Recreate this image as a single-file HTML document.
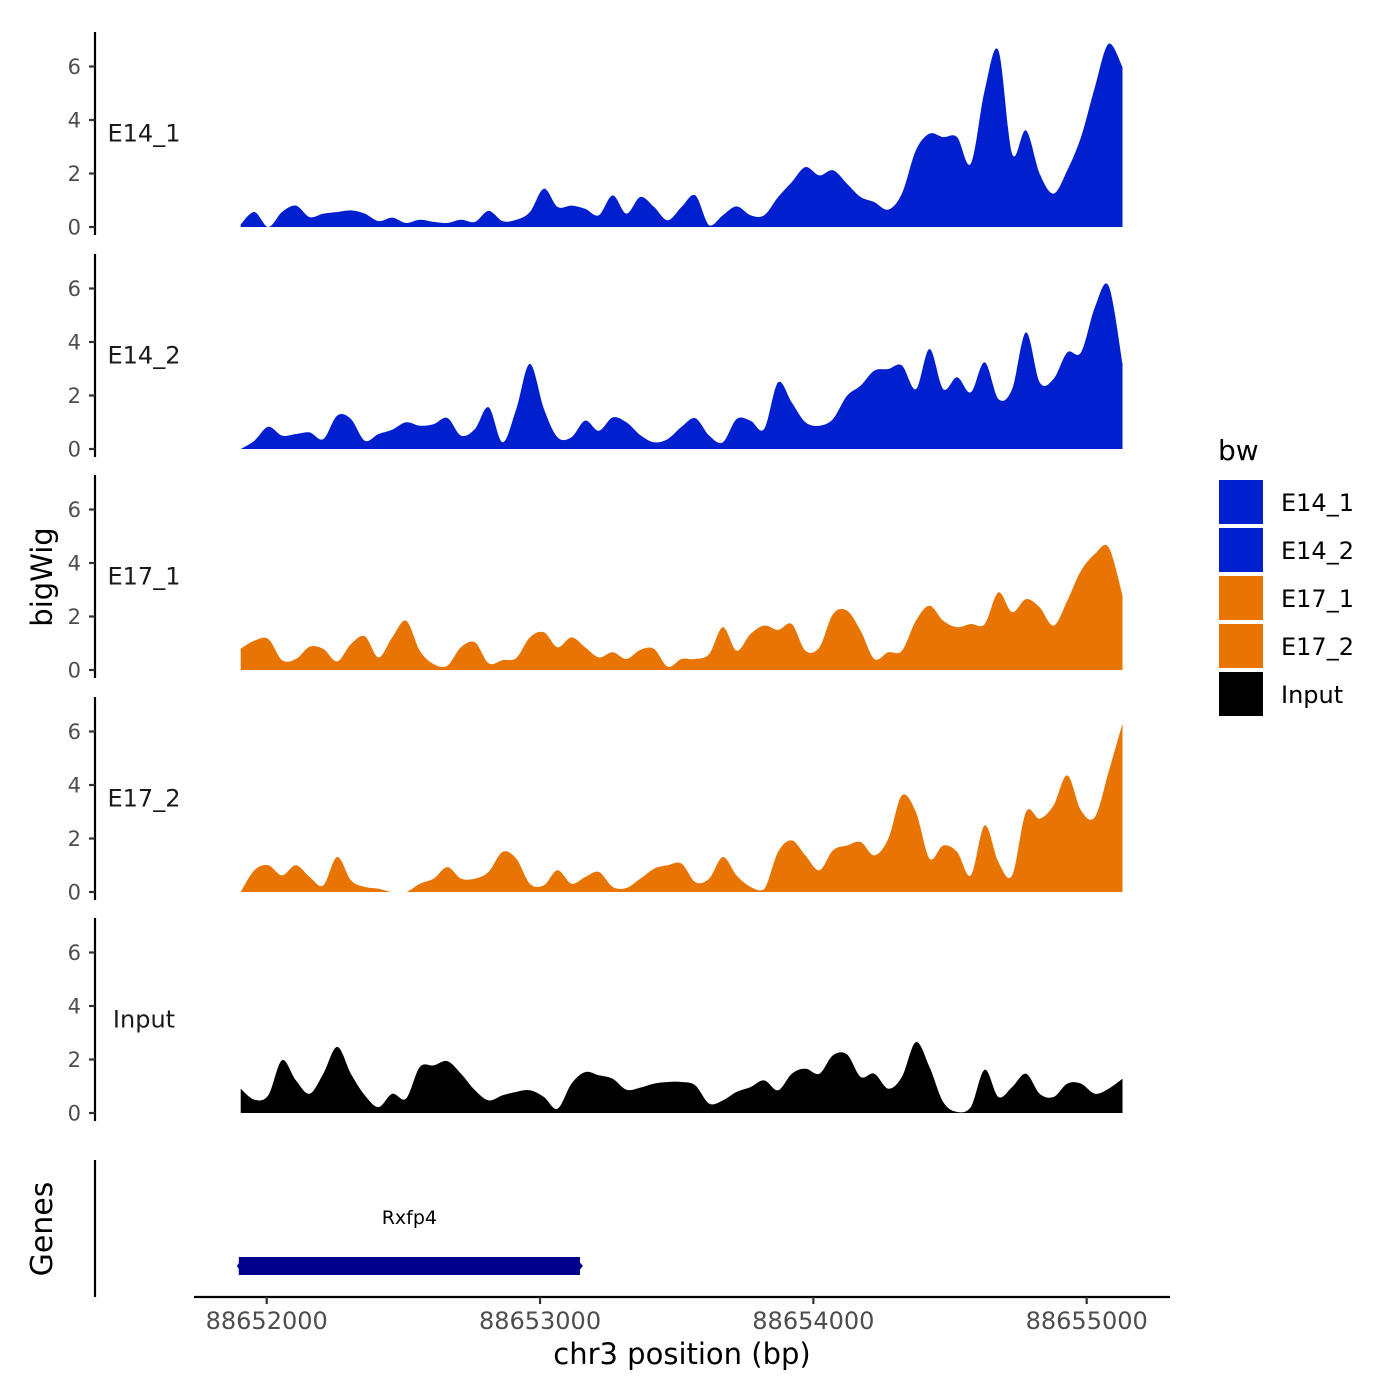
<!DOCTYPE html>
<html><head><meta charset="utf-8">
<style>
html,body{margin:0;padding:0;background:#fff;}
svg{display:block;font-family:"DejaVu Sans","Liberation Sans",sans-serif;}
</style></head>
<body>
<svg id="chart" width="1400" height="1400" viewBox="0 0 1400 1400" xmlns="http://www.w3.org/2000/svg">
<rect width="1400" height="1400" fill="#fff"/>
<g id="panels"></g>
<g id="genes">
  <line x1="95" y1="1160" x2="95" y2="1297" stroke="#000" stroke-width="2.2"/>
  <text x="52" y="1229" font-size="30" text-anchor="middle" transform="rotate(-90 52 1229)">Genes</text>
</g>
<g id="xaxis">
  <line x1="194" y1="1297" x2="1170" y2="1297" stroke="#000" stroke-width="2.2"/>
</g>
<text x="682" y="1364" font-size="29" text-anchor="middle">chr3 position (bp)</text>
<text x="52" y="577" font-size="29" text-anchor="middle" transform="rotate(-90 52 577)">bigWig</text>
<g id="legend">
  <text x="1218" y="460" font-size="28">bw</text>
</g>
</svg>
<script>
const positions = [88651905,88651955,88652006,88652056,88652107,88652157,88652207,88652258,88652308,88652359,88652409,88652459,88652510,88652560,88652611,88652661,88652711,88652762,88652812,88652863,88652913,88652963,88653014,88653064,88653115,88653165,88653215,88653266,88653316,88653367,88653417,88653467,88653518,88653568,88653619,88653669,88653719,88653770,88653820,88653871,88653921,88653971,88654022,88654072,88654123,88654173,88654223,88654274,88654324,88654375,88654425,88654475,88654526,88654576,88654627,88654677,88654727,88654778,88654828,88654879,88654929,88654979,88655030,88655080,88655131];
const trackNames = ["E14_1","E14_2","E17_1","E17_2","Input"];
const trackColors = ["#0020d0","#0020d0","#e87502","#e87502","#000000"];
const e14_1 = [0.1,0.56,0,0.56,0.8,0.37,0.5,0.56,0.62,0.5,0.22,0.35,0.15,0.27,0.19,0.15,0.27,0.19,0.6,0.22,0.27,0.56,1.43,0.75,0.8,0.68,0.44,1.18,0.5,1.12,0.75,0.25,0.75,1.18,0.06,0.44,0.77,0.44,0.44,1.12,1.68,2.24,1.93,2.12,1.62,1.12,0.93,0.65,1.25,2.87,3.49,3.36,3.36,2.37,5.11,6.6,2.74,3.61,1.99,1.25,2.12,3.36,5.23,6.85,5.98];
const e14_2 = [0,0.31,0.83,0.5,0.56,0.62,0.37,1.25,1.12,0.31,0.56,0.72,1.0,0.87,0.93,1.16,0.5,0.75,1.56,0.25,1.5,3.18,1.5,0.44,0.44,1.06,0.68,1.18,1.0,0.52,0.25,0.37,0.83,1.15,0.5,0.25,1.12,1.06,0.75,2.49,1.74,1.0,0.87,1.12,1.99,2.37,2.93,2.99,3.12,2.24,3.74,2.24,2.68,2.12,3.24,1.87,2.24,4.36,2.49,2.62,3.61,3.61,5.3,6.1,3.2];
const e17_1 = [0.8,1.1,1.16,0.37,0.41,0.87,0.79,0.32,0.97,1.26,0.47,1.22,1.84,0.72,0.22,0.16,0.85,1.03,0.25,0.37,0.45,1.22,1.41,0.85,1.22,0.85,0.47,0.66,0.41,0.75,0.79,0.12,0.41,0.41,0.6,1.6,0.72,1.35,1.66,1.5,1.72,0.72,0.85,2.09,2.22,1.47,0.41,0.66,0.72,1.84,2.4,1.84,1.6,1.72,1.72,2.9,2.16,2.65,2.34,1.66,2.59,3.71,4.34,4.59,2.8];
const e17_2 = [0,0.81,1.0,0.62,1.0,0.56,0.25,1.31,0.44,0.19,0.12,0,0,0.31,0.5,0.93,0.5,0.5,0.75,1.5,1.25,0.31,0.25,0.81,0.31,0.56,0.75,0.19,0.15,0.5,0.87,1.0,1.06,0.37,0.5,1.31,0.62,0.19,0.1,1.5,1.93,1.37,0.81,1.56,1.74,1.87,1.37,1.99,3.61,2.99,1.25,1.74,1.5,0.62,2.49,1.12,0.62,2.99,2.74,3.24,4.36,3.05,2.8,4.49,6.3];
const inputTrack = [0.91,0.5,0.66,1.97,1.22,0.72,1.47,2.47,1.47,0.66,0.22,0.72,0.54,1.72,1.78,1.94,1.47,0.85,0.47,0.66,0.79,0.85,0.6,0.16,1.1,1.53,1.41,1.28,0.87,0.95,1.1,1.16,1.16,1.03,0.35,0.47,0.79,0.97,1.22,0.85,1.47,1.66,1.47,2.16,2.19,1.35,1.47,0.91,1.35,2.65,1.72,0.41,0.04,0.22,1.62,0.6,0.97,1.47,0.72,0.6,1.1,1.1,0.72,0.91,1.28];
const yTicks = [0,2,4,6];
const xTicks = [88652000,88653000,88654000,88655000];
const geneName = "Rxfp4";
const geneStart = 88651898;
const geneEnd = 88653146;

const NS = "http://www.w3.org/2000/svg";
const seriesList = [e14_1,e14_2,e17_1,e17_2,inputTrack];
function xScale(bp){ return 266.7 + (bp - 88652000) * 0.27333; }
const panelBase = [227, 449, 670, 892, 1113];
const unit = 26.75;
function yScale(p, v){ return panelBase[p] - v * unit; }
function mk(tag, attrs, parent){
  const el = document.createElementNS(NS, tag);
  for (const k in attrs) el.setAttribute(k, attrs[k]);
  parent.appendChild(el); return el;
}
const panelsG = document.getElementById("panels");
seriesList.forEach((vals, p) => {
  const g = mk("g", {}, panelsG);
  
  
  const top = panelBase[p] - 195, bot = panelBase[p] + 8;
  const ax = mk("line", {x1:95, y1:top, x2:95, y2:bot, stroke:"#000", "stroke-width":2.2}, g);
  
  
  yTicks.forEach(t => {
    const y = yScale(p, t);
    const tk = mk("line", {x1:89, y1:y, x2:95, y2:y, stroke:"#333", "stroke-width":2.2}, g);
    
    
    const tl = mk("text", {x:81, y:y+7.5, "font-size":21, fill:"#4d4d4d", "text-anchor":"end"}, g);
    tl.textContent = t;
    
    
  });
  const lab = mk("text", {x:144, y:yScale(p,3.35)+4, "font-size":24, fill:"#1a1a1a", "text-anchor":"middle"}, g);
  lab.textContent = trackNames[p];
  
  
  const pts = positions.map((bp, i) => [xScale(bp), yScale(p, vals[i])]);
  const base = panelBase[p];
  let d = "M" + pts[0][0].toFixed(1) + "," + base + " L" + pts[0][0].toFixed(1) + "," + pts[0][1].toFixed(1);
  for (let i = 0; i < pts.length - 1; i++) {
    const p0 = pts[Math.max(0,i-1)], p1 = pts[i], p2 = pts[i+1], p3 = pts[Math.min(pts.length-1,i+2)];
    const c1x = p1[0] + (p2[0]-p0[0])/6, c1y = Math.min(base, p1[1] + (p2[1]-p0[1])/6);
    const c2x = p2[0] - (p3[0]-p1[0])/6, c2y = Math.min(base, p2[1] - (p3[1]-p1[1])/6);
    d += " C" + c1x.toFixed(1) + "," + c1y.toFixed(1) + " " + c2x.toFixed(1) + "," + c2y.toFixed(1) + " " + p2[0].toFixed(1) + "," + p2[1].toFixed(1);
  }
  d += " L" + pts[pts.length-1][0].toFixed(1) + "," + base + " Z";
  const area = mk("path", {d:d, fill:trackColors[p]}, g);
  
  
});
const xg = document.getElementById("xaxis");
xTicks.forEach(t => {
  const x = xScale(t);
  const tk = mk("line", {x1:x, y1:1297, x2:x, y2:1304, stroke:"#333", "stroke-width":2.2}, xg);
  
  
  const tl = mk("text", {x:x, y:1329, "font-size":24, fill:"#4d4d4d", "text-anchor":"middle"}, xg);
  tl.textContent = t;
  
  
});
const gg = document.getElementById("genes");
const gx1 = xScale(geneStart), gx2 = xScale(geneEnd);
const gbar = mk("rect", {x:gx1, y:1257, width:gx2-gx1, height:18, fill:"#00008b"}, gg);


const gl = mk("path", {d:"M"+(gx1-2)+",1266 L"+(gx1+3)+",1259 L"+(gx1+3)+",1273 Z M"+(gx2-3)+",1259 L"+(gx2+3)+",1266 L"+(gx2-3)+",1273 Z", fill:"#00008b"}, gg);


const gt = mk("text", {x:(gx1+gx2)/2, y:1224, "font-size":19, "text-anchor":"middle", fill:"#000"}, gg);
gt.textContent = geneName;


const lg = document.getElementById("legend");
trackNames.forEach((n, i) => {
  const y = 480 + i * 48;
  const r = mk("rect", {x:1219, y:y, width:44, height:44, fill:trackColors[i]}, lg);
  
  
  const t = mk("text", {x:1281, y:y+31, "font-size":24, fill:"#000"}, lg);
  t.textContent = n;
  
  
});
</script>
</body></html>
